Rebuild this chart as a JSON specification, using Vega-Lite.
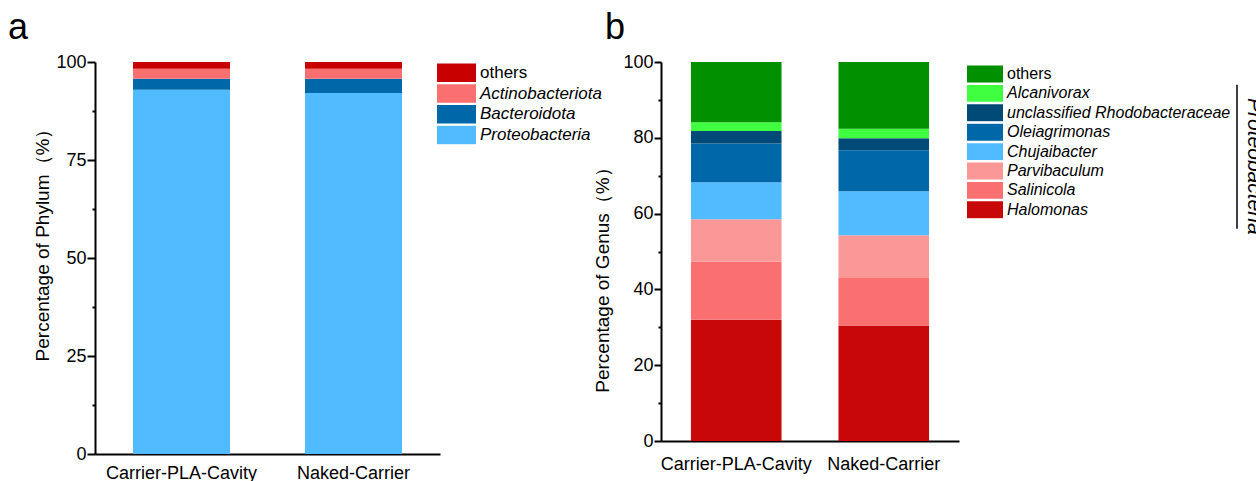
{
  "$schema": "https://vega.github.io/schema/vega-lite/v6.json",
  "background": "white",
  "padding": {"left": 8, "top": 10, "right": 0, "bottom": 0},
  "spacing": 221,
  "bounds": "flush",
  "datasets": {
    "phylum": [
      {"sample": "Carrier-PLA-Cavity", "phylum": "Proteobacteria", "percent": 92.9},
      {"sample": "Carrier-PLA-Cavity", "phylum": "Bacteroidota", "percent": 2.8},
      {"sample": "Carrier-PLA-Cavity", "phylum": "Actinobacteriota", "percent": 2.6},
      {"sample": "Carrier-PLA-Cavity", "phylum": "others", "percent": 1.7},
      {"sample": "Naked-Carrier", "phylum": "Proteobacteria", "percent": 92.1},
      {"sample": "Naked-Carrier", "phylum": "Bacteroidota", "percent": 3.6},
      {"sample": "Naked-Carrier", "phylum": "Actinobacteriota", "percent": 2.6},
      {"sample": "Naked-Carrier", "phylum": "others", "percent": 1.7}
    ],
    "genus": [
      {"sample": "Carrier-PLA-Cavity", "genus": "Halomonas", "percent": 32.0},
      {"sample": "Carrier-PLA-Cavity", "genus": "Salinicola", "percent": 15.3},
      {"sample": "Carrier-PLA-Cavity", "genus": "Parvibaculum", "percent": 11.2},
      {"sample": "Carrier-PLA-Cavity", "genus": "Chujaibacter", "percent": 9.8},
      {"sample": "Carrier-PLA-Cavity", "genus": "Oleiagrimonas", "percent": 10.2},
      {"sample": "Carrier-PLA-Cavity", "genus": "unclassified Rhodobacteraceae", "percent": 3.3},
      {"sample": "Carrier-PLA-Cavity", "genus": "Alcanivorax", "percent": 2.3},
      {"sample": "Carrier-PLA-Cavity", "genus": "others", "percent": 15.9},
      {"sample": "Naked-Carrier", "genus": "Halomonas", "percent": 30.5},
      {"sample": "Naked-Carrier", "genus": "Salinicola", "percent": 12.5},
      {"sample": "Naked-Carrier", "genus": "Parvibaculum", "percent": 11.3},
      {"sample": "Naked-Carrier", "genus": "Chujaibacter", "percent": 11.6},
      {"sample": "Naked-Carrier", "genus": "Oleiagrimonas", "percent": 10.8},
      {"sample": "Naked-Carrier", "genus": "unclassified Rhodobacteraceae", "percent": 3.2},
      {"sample": "Naked-Carrier", "genus": "Alcanivorax", "percent": 2.5},
      {"sample": "Naked-Carrier", "genus": "others", "percent": 17.6}
    ]
  },
  "hconcat": [
    {
      "data": {"name": "phylum"},
      "transform": [
        {"calculate": "indexof(['others', 'Actinobacteriota', 'Bacteroidota', 'Proteobacteria'], datum.phylum)", "as": "rank"}
      ],
      "width": 345,
      "height": 392,
      "title": {"text": "a", "anchor": "start", "frame": "group", "dx": -87, "offset": -22, "fontSize": 36, "fontWeight": "normal", "baseline": "alphabetic", "font": "Liberation Sans", "color": "black"},
      "mark": {"type": "bar"},
      "encoding": {
        "x": {"field": "sample", "type": "nominal", "sort": ["Carrier-PLA-Cavity", "Naked-Carrier"],
              "scale": {"paddingInner": 0.436, "paddingOuter": 0.221},
              "axis": {"title": null, "labelAngle": 0, "ticks": false, "labelPadding": 10}},
        "y": {"field": "percent", "type": "quantitative", "stack": "zero",
              "scale": {"domain": [0, 100], "nice": false},
              "axis": {"title": "Percentage of Phylum（%）", "values": [0, 12.5, 25, 37.5, 50, 62.5, 75, 87.5, 100],
                       "labelExpr": "datum.value % 25 == 0 ? datum.label : ''",
                       "tickSize": {"condition": {"test": "datum.value % 25 == 0", "value": 8}, "value": 3},
                       "labelPadding": 1, "titlePadding": 3, "titleY": 178, "labelOverlap": false}},
        "order": {"field": "rank", "type": "quantitative", "sort": "descending"},
        "color": {"field": "phylum", "type": "nominal",
                  "sort": ["others", "Actinobacteriota", "Bacteroidota", "Proteobacteria"],
                  "scale": {"range": ["#C80000", "#FA7070", "#0068A8", "#50BBFF"]},
                  "legend": {"title": null, "offset": -4, "padding": 1, "symbolType": "M-1,-0.47H1V0.47H-1Z", "symbolSize": 1521,
                             "clipHeight": 19.5, "symbolStrokeWidth": 0, "labelFontSize": 17, "rowPadding": 0.75, "labelOffset": 4,
                             "encode": {"labels": {"update": {"fontStyle": {"signal": "datum.value == 'others' ? 'normal' : 'italic'"}}}}}}
      }
    },
    {
      "spacing": 278,
      "bounds": "flush",
      "hconcat": [
        {
          "data": {"name": "genus"},
          "transform": [
            {"calculate": "indexof(['others', 'Alcanivorax', 'unclassified Rhodobacteraceae', 'Oleiagrimonas', 'Chujaibacter', 'Parvibaculum', 'Salinicola', 'Halomonas'], datum.genus)", "as": "rank"}
          ],
          "width": 298,
          "height": 379,
          "title": {"text": "b", "anchor": "start", "frame": "group", "dx": -56, "offset": -22, "fontSize": 36, "fontWeight": "normal", "baseline": "alphabetic", "font": "Liberation Sans", "color": "black"},
          "mark": {"type": "bar"},
          "encoding": {
            "x": {"field": "sample", "type": "nominal", "sort": ["Carrier-PLA-Cavity", "Naked-Carrier"],
                  "scale": {"paddingInner": 0.386, "paddingOuter": 0.203},
                  "axis": {"title": null, "labelAngle": 0, "ticks": false, "labelPadding": 14}},
            "y": {"field": "percent", "type": "quantitative", "stack": "zero",
                  "scale": {"domain": [0, 100], "nice": false},
                  "axis": {"title": "Percentage of Genus（%）", "values": [0, 10, 20, 30, 40, 50, 60, 70, 80, 90, 100],
                           "labelExpr": "datum.value % 20 == 0 ? datum.label : ''",
                           "tickSize": {"condition": {"test": "datum.value % 20 == 0", "value": 7}, "value": 3},
                           "labelPadding": 1, "titlePadding": 10, "titleY": 213, "labelOverlap": false}},
            "order": {"field": "rank", "type": "quantitative", "sort": "descending"},
            "color": {"field": "genus", "type": "nominal",
                      "sort": ["others", "Alcanivorax", "unclassified Rhodobacteraceae", "Oleiagrimonas", "Chujaibacter", "Parvibaculum", "Salinicola", "Halomonas"],
                      "scale": {"range": ["#009000", "#40FF40", "#004A78", "#0068A8", "#50BBFF", "#FA9898", "#FA7070", "#C80808"]},
                      "legend": {"title": null, "offset": 5, "padding": 3, "symbolType": "M-1,-0.47H1V0.47H-1Z", "symbolSize": 1296,
                                 "clipHeight": 18, "symbolStrokeWidth": 0, "labelFontSize": 16, "rowPadding": 1.4, "labelOffset": 4,
                                 "encode": {"labels": {"update": {"fontStyle": {"signal": "datum.value == 'others' ? 'normal' : 'italic'"}}}}}}
          }
        },
        {
          "data": {"values": [{"phylum": "Proteobacteria"}]},
          "width": 20,
          "height": 379,
          "layer": [
            {
              "mark": {"type": "rule", "color": "black", "strokeWidth": 1.5},
              "encoding": {
                "x": {"datum": 0, "type": "quantitative", "scale": {"domain": [0, 20]}, "axis": null},
                "y": {"datum": 94, "type": "quantitative", "scale": {"domain": [0, 100]}, "axis": null},
                "y2": {"datum": 56}
              }
            },
            {
              "mark": {"type": "text", "angle": 90, "align": "left", "baseline": "alphabetic", "fontSize": 21, "fontStyle": "italic", "color": "black", "font": "Liberation Sans"},
              "encoding": {
                "x": {"datum": 11, "type": "quantitative", "scale": {"domain": [0, 20]}, "axis": null},
                "y": {"datum": 90.5, "type": "quantitative", "scale": {"domain": [0, 100]}, "axis": null},
                "text": {"field": "phylum"}
              }
            }
          ]
        }
      ],
      "resolve": {"scale": {"x": "independent", "y": "independent", "color": "independent"}, "legend": {"color": "independent"}}
    }
  ],
  "resolve": {"scale": {"x": "independent", "y": "independent", "color": "independent"}, "legend": {"color": "independent"}},
  "config": {
    "font": "Liberation Sans",
    "view": {"stroke": null},
    "axis": {"domainColor": "black", "domainWidth": 2, "tickColor": "black", "tickWidth": 2, "labelColor": "black",
             "labelFont": "Liberation Sans", "labelFontSize": 18, "titleFont": "Liberation Sans", "titleFontSize": 19,
             "titleFontWeight": "normal", "titleColor": "black", "grid": false},
    "legend": {"labelFont": "Liberation Sans", "labelColor": "black", "labelLimit": 400}
  }
}
